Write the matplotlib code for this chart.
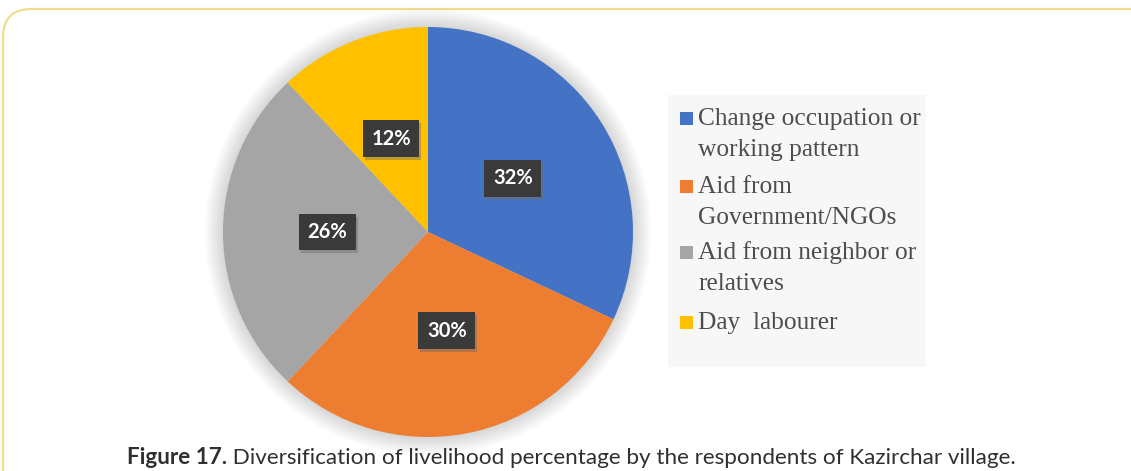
import matplotlib
matplotlib.use("Agg")
import matplotlib.pyplot as plt
from matplotlib.patches import FancyBboxPatch, Circle, Rectangle

# Data
categories = ["Change occupation or\nworking pattern",
              "Aid from\nGovernment/NGOs",
              "Aid from neighbor or\nrelatives",
              "Day  labourer"]
shares = [32, 30, 26, 12]
colors = ["#4472C4", "#ED7D31", "#A5A5A5", "#FFC000"]
caption_bold = "Figure 17."
caption_rest = " Diversification of livelihood percentage by the respondents of Kazirchar village."

W, H = 1131, 471
DPI = 100
fig = plt.figure(figsize=(W / DPI, H / DPI), dpi=DPI)
fig.patch.set_facecolor("white")


def px(x, y):
    """Pixel position (from top-left) to figure fraction."""
    return x / W, 1 - y / H


# Rounded frame around the figure panel
frame = FancyBboxPatch((3 / W, -0.2), (W + 40) / W, 1 - 9 / H + 0.2,
                       boxstyle="round,pad=0,rounding_size=0.025",
                       transform=fig.transFigure, fc="none", ec="#f0dc8e",
                       lw=1.6, mutation_aspect=W / H, zorder=-1)
fig.patches.append(frame)

# Pie axes: centre (428, 232) px, radius 205 px
R = 205
cx, cy = 428, 232
span = 1.12
side = 2 * span * R
ax = fig.add_axes([(cx - side / 2) / W, (H - cy - side / 2) / H, side / W, side / H])
ax.patch.set_visible(False)

# soft glow behind the pie
for i in range(20):
    r = 1.0 + 0.0045 * (i + 1)
    ax.add_patch(Circle((0, 0), r, fc="#a0a0a0", ec="none", alpha=0.018, zorder=0))

wedges, texts, autotexts = ax.pie(
    shares, colors=colors, startangle=90, counterclock=False,
    autopct=lambda p: f"{p:.0f}%", pctdistance=0.49, radius=1.0,
    wedgeprops=dict(linewidth=0, edgecolor="none"),
    textprops=dict(color="white", fontsize=14.5, fontweight="bold", family="Lato"),
)
ax.set_xlim(-span, span)
ax.set_ylim(-span, span)
ax.set_aspect("equal")
ax.axis("off")

for t in autotexts:
    t.set_bbox(dict(boxstyle="square,pad=0.42", fc="#3a3a3a", ec="none"))
    t.set_zorder(5)

# Legend panel
lx0, ly0, lx1, ly1 = 668, 95, 926, 367
fig.patches.append(Rectangle(px(lx0, ly1), (lx1 - lx0) / W, (ly1 - ly0) / H,
                             transform=fig.transFigure, fc="#f7f7f7", ec="none", zorder=1))

line_gap = 31
first_baselines = [125, 193, 259, 329]
for cat, col, base in zip(categories, colors, first_baselines):
    fig.patches.append(Rectangle(px(680, base), 13 / W, 13 / H,
                                 transform=fig.transFigure, fc=col, ec="none", zorder=2))
    for k, line in enumerate(cat.split("\n")):
        fig.text(*px(698, base + k * line_gap), line, ha="left", va="baseline",
                 fontsize=18.3, family="Liberation Serif", color="#4d4d4d", zorder=3)

# Caption
cap_size = 16.2
cap1 = fig.text(*px(127, 464), caption_bold, ha="left", va="baseline",
                fontsize=cap_size, fontweight="bold", family="Lato", color="#303030")
fig.canvas.draw()
bb = cap1.get_window_extent()
fig.text(bb.x1 / W, 1 - 464 / H, caption_rest, ha="left", va="baseline",
         fontsize=cap_size, family="Lato", color="#303030")

# drop shadows under the percentage boxes
for t in autotexts:
    e = t.get_bbox_patch().get_window_extent()
    ax.add_patch(Rectangle((e.x0 + 2, e.y0 - 3), e.width, e.height,
                           transform=None, fc="#6e6e6e", ec="none", alpha=0.45, zorder=4))

fig.savefig("out.png", dpi=DPI, facecolor="white")
